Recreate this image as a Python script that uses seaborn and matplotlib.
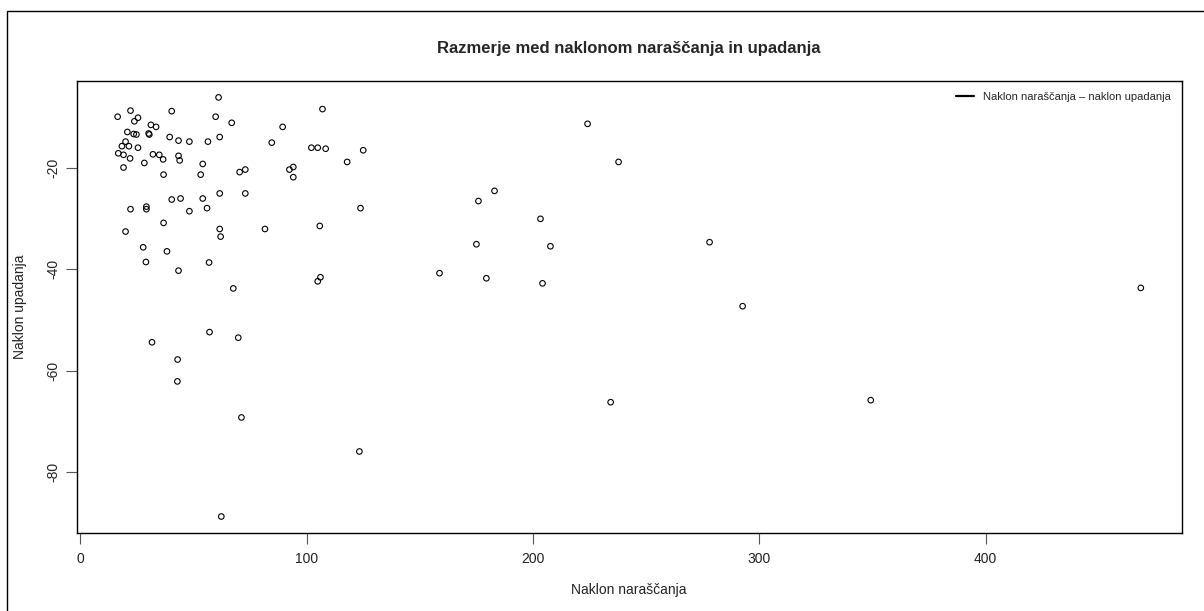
import matplotlib
matplotlib.use("Agg")
import matplotlib.pyplot as plt
from matplotlib.lines import Line2D
from matplotlib.patches import Rectangle
import seaborn as sns
import pandas as pd

# Rising slope (x) and falling slope (y) per segment
naklon_narascanja = [
    61.1, 16.5, 22.2, 25.5, 23.9, 40.4, 59.8, 66.9, 31.2, 33.5,
    20.8, 23.6, 24.8, 30.2, 30.5, 39.5, 43.4, 48.2, 56.4, 61.6,
    20.0, 18.4, 21.5, 25.5, 16.8, 19.1, 22.0, 32.1, 34.9, 36.6,
    43.4, 43.9, 28.3, 19.1, 54.1, 36.8, 53.2, 70.4, 72.9, 61.6,
    72.9, 40.4, 44.3, 54.1, 22.2, 29.2, 29.2, 48.2, 56.0, 36.8,
    20.0, 61.6, 62.0, 27.8, 38.3, 29.0, 56.9, 43.4, 67.6, 57.1,
    69.8, 31.7, 43.0, 107.0, 89.4, 84.6, 102.1, 104.9, 108.4, 125.0,
    117.9, 92.4, 94.1, 94.1, 123.8, 81.6, 105.8, 106.1, 104.9, 62.3,
    123.3, 71.2, 42.9, 158.7, 175.9, 183.0, 175.0, 179.4, 203.3, 204.2,
    207.7, 224.1, 237.8, 234.3, 278.0, 292.6, 349.2, 468.5,
]
naklon_upadanja = [
    -6.2, -10.0, -8.8, -10.2, -10.9, -8.9, -10.0, -11.2, -11.6, -12.0,
    -13.0, -13.4, -13.5, -13.3, -13.5, -14.0, -14.7, -14.9, -14.9, -14.0,
    -14.9, -15.8, -15.8, -16.1, -17.2, -17.5, -18.2, -17.4, -17.5, -18.4,
    -17.7, -18.6, -19.1, -20.0, -19.3, -21.4, -21.4, -20.9, -20.4, -25.1,
    -25.1, -26.3, -26.1, -26.1, -28.2, -27.7, -28.2, -28.6, -28.0, -30.9,
    -32.6, -32.1, -33.6, -35.7, -36.5, -38.6, -38.7, -40.3, -43.8, -52.4,
    -53.5, -54.4, -57.8, -8.5, -12.0, -15.1, -16.1, -16.1, -16.3, -16.6,
    -18.9, -20.4, -19.9, -21.9, -28.0, -32.1, -31.5, -41.6, -42.4, -88.7,
    -75.9, -69.2, -62.1, -40.8, -26.6, -24.6, -35.1, -41.8, -30.1, -42.8,
    -35.5, -11.4, -18.9, -66.2, -34.7, -47.3, -65.8, -43.7,
]

x_ticks = [0, 100, 200, 300, 400]
y_ticks = [-80, -60, -40, -20]

naslov = "Razmerje med naklonom naraščanja in upadanja"
oznaka_x = "Naklon naraščanja"
oznaka_y = "Naklon upadanja"
legenda = "Naklon naraščanja – naklon upadanja"

df = pd.DataFrame({"x": naklon_narascanja, "y": naklon_upadanja})

sns.set_theme(style="ticks")
plt.rcParams["font.family"] = ["Liberation Sans", "DejaVu Sans"]

fig = plt.figure(figsize=(12.04, 6.11), dpi=100)
ax = fig.add_axes([0.0637, 0.1272, 0.9178, 0.7408])

sns.scatterplot(data=df, x="x", y="y", ax=ax, marker="o", s=16,
                facecolor="none", edgecolor="black", linewidth=0.8)

# R-style 4% padding around the data range
xmin, xmax = min(naklon_narascanja), max(naklon_narascanja)
ymin, ymax = min(naklon_upadanja), max(naklon_upadanja)
dx, dy = (xmax - xmin) * 0.04, (ymax - ymin) * 0.04
ax.set_xlim(xmin - dx, xmax + dx)
ax.set_ylim(ymin - dy, ymax + dy)

ax.set_xticks(x_ticks)
ax.set_yticks(y_ticks)
ax.set_yticklabels([str(v) for v in y_ticks], rotation=90, va="center")
ax.tick_params(axis="both", direction="out", length=8, width=0.8,
               color="#555555", labelsize=10, labelcolor="#222222")
ax.tick_params(axis="x", pad=5.5)
ax.tick_params(axis="y", pad=4)

for sp in ax.spines.values():
    sp.set_visible(True)
    sp.set_color("black")
    sp.set_linewidth(1.0)

ax.set_xlabel(oznaka_x, fontsize=10, color="#222222", labelpad=12)
ax.set_ylabel(oznaka_y, fontsize=10, color="#222222", labelpad=14)
ax.set_title(naslov, fontsize=12, fontweight="bold", pad=20)

handle = Line2D([0], [0], color="black", linewidth=1.6)
ax.legend([handle], [legenda], loc="upper right", frameon=False,
          fontsize=8, handlelength=1.6, borderaxespad=0.6)

# thin frame around the whole device region
fig.patches.append(Rectangle((0.0058, -0.01), 1.0, 0.992, transform=fig.transFigure,
                             fill=False, edgecolor="black", linewidth=1.0))

fig.savefig("out.png", dpi=100, facecolor="white")
